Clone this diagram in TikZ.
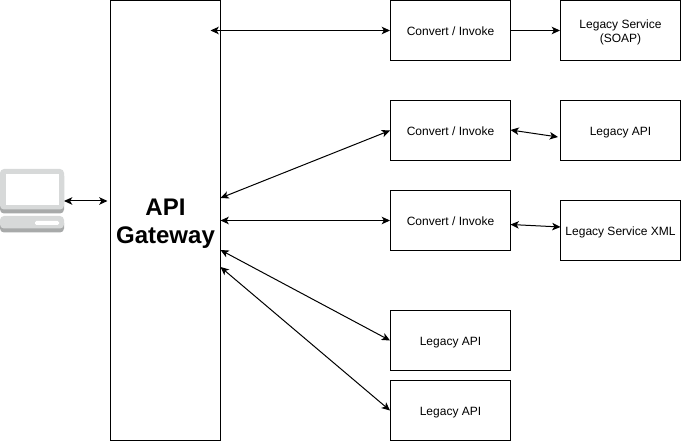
\documentclass[tikz,border=0pt]{standalone}
\usepackage{fontspec}
\setmainfont{Liberation Sans}
\usetikzlibrary{arrows.meta}
\definecolor{lapdark}{RGB}{168,170,170}
\definecolor{lapface}{RGB}{215,217,217}
\tikzset{
  x=0.75pt,y=-0.75pt,
  boxn/.style={draw=black,line width=0.75pt,minimum width=90pt,minimum height=45pt,inner sep=0pt,align=center,font=\fontsize{9}{10.5}\selectfont,text height=7.1pt,text depth=0pt},
  boxs/.style={boxn,text height=18pt},
  gate/.style={draw=black,line width=0.75pt,minimum width=82.5pt,minimum height=330pt,inner sep=0pt,align=center,font=\fontsize{18}{21}\selectfont\bfseries,text height=33.8pt,text depth=0pt},
  link/.style={line width=0.75pt,{Stealth[length=6.2pt,width=5.6pt,inset=1.6pt]}-{Stealth[length=6.2pt,width=5.6pt,inset=1.6pt]}},
  linkone/.style={line width=0.75pt,-{Stealth[length=6.2pt,width=5.6pt,inset=1.6pt]}},
}
\begin{document}
\begin{tikzpicture}
\useasboundingbox (0,0) rectangle (681,441);
\node[gate] (gw) at (165.5,220.5) {API\\Gateway};
\node[boxn] (c1) at (450.5,30.5) {Convert / Invoke};
\node[boxs] (s1) at (620.5,30.5) {Legacy Service\\(SOAP)};
\node[boxn] (c2) at (450.5,130.5) {Convert / Invoke};
\node[boxn] (s2) at (620.5,130.5) {Legacy API};
\node[boxn] (c3) at (450.5,220.5) {Convert / Invoke};
\node[boxn] (s3) at (620.5,230.5) {Legacy Service XML};
\node[boxn] (l1) at (450.5,340.5) {Legacy API};
\node[boxn] (l2) at (450.5,410.5) {Legacy API};
% laptop icon
\fill[rounded corners=3pt,lapdark] (0,172) rectangle (64,213.5);
\fill[rounded corners=3pt,lapface] (0,169) rectangle (64,209.5);
\fill[white] (6,174.5) rectangle (59,205.5);
\fill[rounded corners=3pt,lapdark] (0,219) rectangle (64,232.5);
\fill[rounded corners=3pt,lapface] (0,216) rectangle (64,228.5);
\fill[rounded corners=1pt,white] (35,221) rectangle (59,225);
\coordinate (pc) at (64,201);
\coordinate (gwl) at (107.5,201);
\coordinate (g1) at (210.5,30.5);
\coordinate (g2) at (220.5,198);
\coordinate (g3) at (220.5,220.5);
\coordinate (g4) at (220.5,250);
\coordinate (g5) at (220.5,267);
\coordinate (a2) at (510.5,130);
\coordinate (b2) at (558,137);
\coordinate (a3) at (510.5,224.5);
\coordinate (b3) at (560.5,227);
\draw[link] (pc) -- (gwl);
\draw[link] (g1) -- (c1.west);
\draw[linkone] (c1.east) -- (s1.west);
\draw[link] (g2) -- (c2.west);
\draw[link] (a2) -- (b2);
\draw[link] (g3) -- (c3.west);
\draw[link] (a3) -- (b3);
\draw[link] (g4) -- (l1.west);
\draw[link] (g5) -- (l2.west);
\end{tikzpicture}
\end{document}
